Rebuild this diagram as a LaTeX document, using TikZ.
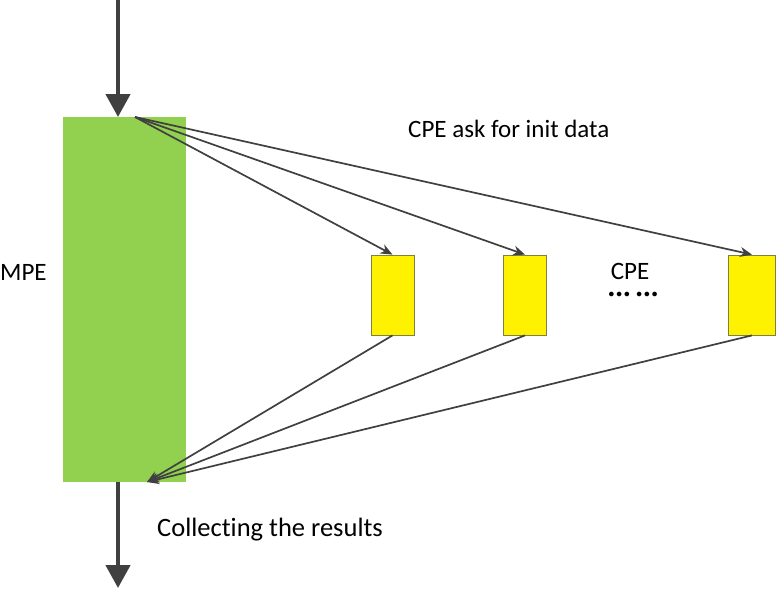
\documentclass[tikz,border=0pt]{standalone}
\usepackage{fontspec}
\setmainfont{Carlito}[Ligatures=NoCommon]
\usetikzlibrary{arrows.meta}
\definecolor{mpegreen}{HTML}{92D050}
\definecolor{arrowgray}{HTML}{404040}
\definecolor{cpeedge}{HTML}{7F7F40}
\begin{document}
\begin{tikzpicture}[x=1pt,y=-1pt,
  mpebox/.style={fill=mpegreen,draw=none,inner sep=0pt,minimum width=123pt,minimum height=365pt},
  cpebox/.style={fill=yellow,draw=cpeedge,line width=0.8pt,inner sep=0pt,minimum width=43pt,minimum height=80pt},
  bigarrow/.style={draw=arrowgray,line width=4.5pt,-{Triangle[width=24pt,length=23pt]}},
  thinarrow/.style={draw=arrowgray,line width=1.7pt,-{Stealth[width=10pt,length=12pt]}},
  lbl/.style={font=\fontsize{25}{30}\selectfont,inner sep=0pt}]
\useasboundingbox (0,0) rectangle (779,589);
\node[mpebox] (mpe) at (124.5,299.5) {};
\node[cpebox] (c1) at (392.5,295) {};
\node[cpebox] (c2) at (525,295) {};
\node[cpebox, minimum width=47pt] (c3) at (752,295) {};
\coordinate (top) at (118,0);
\coordinate (mpetop) at (118,117);
\coordinate (src) at (135,117);
\coordinate (sink) at (147,482);
\coordinate (mpebot) at (118,482);
\coordinate (bottom) at (118,588);
\draw[bigarrow] (top) -- (mpetop);
\draw[bigarrow] (mpebot) -- (bottom);
\draw[thinarrow] (src) -- (c1.north);
\draw[thinarrow] (src) -- (c2.north);
\draw[thinarrow] (src) -- (c3.north);
\draw[thinarrow] (c1.south) -- (sink);
\draw[thinarrow] (c2.south) -- (sink);
\draw[thinarrow] (c3.south) -- (sink);
\node[lbl,anchor=west] (ask) at (408,129) {CPE ask for init data};
\node[lbl,anchor=west] (mpelbl) at (0,272) {MPE};
\node[lbl] (cpelbl) at (630,271) {CPE};
\node[lbl] (dots) at (633,297) {\textbf{\textperiodcentered\kern1pt\textperiodcentered\kern1pt\textperiodcentered\ \textperiodcentered\kern1pt\textperiodcentered\kern1pt\textperiodcentered}};
\node[lbl,anchor=west,font=\fontsize{26.5}{31}\selectfont] (coll) at (157,530) {Collecting the results};
\end{tikzpicture}
\end{document}
